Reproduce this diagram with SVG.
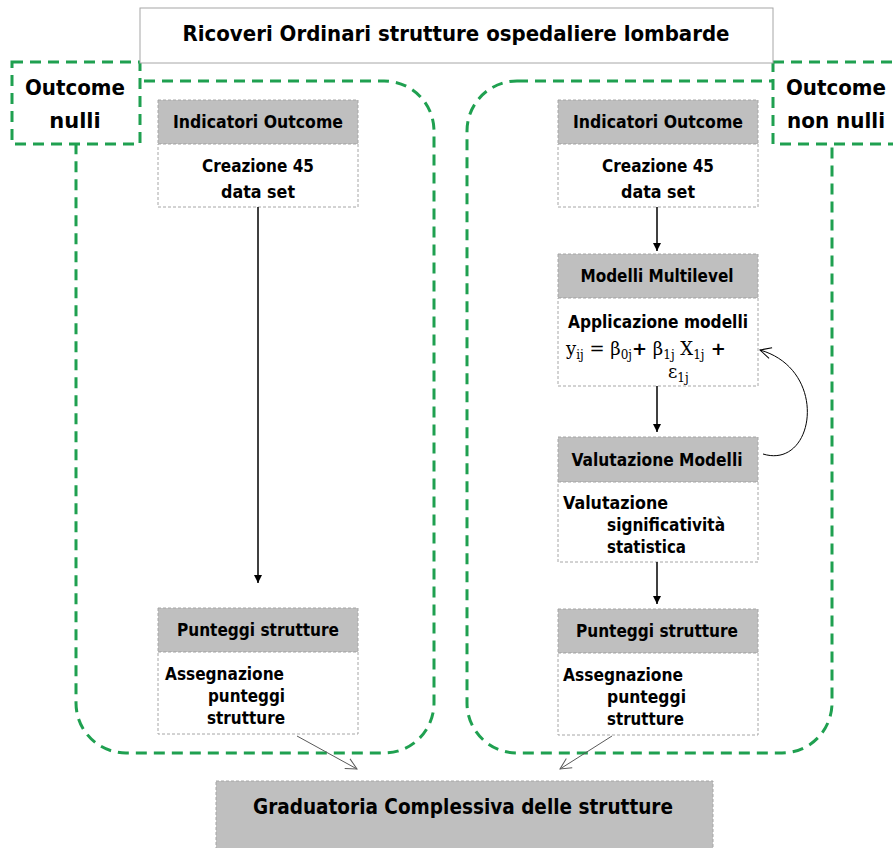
<svg xmlns="http://www.w3.org/2000/svg" width="893" height="848" viewBox="0 0 893 848">
<defs>
<style>
.t{font-family:"DejaVu Sans",Verdana,sans-serif;font-weight:bold;fill:#000;text-anchor:middle}
.tl{font-family:"DejaVu Sans",Verdana,sans-serif;font-weight:bold;fill:#000}
.hdr{fill:#bfbfbf;stroke:#a6a6a6;stroke-width:1;stroke-dasharray:3 2}
.body{fill:#fff;stroke:#a6a6a6;stroke-width:1;stroke-dasharray:3 2}
.grp{fill:none;stroke:#1fa050;stroke-width:3;stroke-dasharray:11 7}
.lbl{fill:#fff;stroke:#1fa050;stroke-width:3;stroke-dasharray:11 7}
.arr{stroke:#000;stroke-width:1.5;fill:none;marker-end:url(#ah)}
.thin{stroke:#595959;stroke-width:1;fill:none;marker-end:url(#oh)}
.m{font-family:"DejaVu Serif","Liberation Serif",serif;font-size:18px}
.s{font-size:12px}
</style>
<marker id="ah" markerWidth="10" markerHeight="10" refX="8" refY="5" orient="auto" markerUnits="userSpaceOnUse"><path d="M0,1 L8,5 L0,9 Z" fill="#000"/></marker>
<marker id="oh" markerWidth="14" markerHeight="14" refX="12" refY="7" orient="auto" markerUnits="userSpaceOnUse"><path d="M1,1.5 L12,7 L1,12.5" fill="none" stroke="#595959" stroke-width="1"/></marker>
<marker id="oh2" markerWidth="14" markerHeight="14" refX="12" refY="7" orient="auto" markerUnits="userSpaceOnUse"><path d="M1,1.5 L12,7 L1,12.5" fill="none" stroke="#000" stroke-width="1"/></marker>
</defs>

<g id="groups">
<rect class="grp" x="76" y="81" width="358" height="672" rx="50" ry="50"/>
<rect class="grp" x="467" y="81" width="365" height="672" rx="50" ry="50"/>
</g>

<g id="label-nulli">
<rect class="lbl" x="12" y="62" width="128" height="82"/>
<text class="t" x="75" y="95" font-size="21" textLength="100" lengthAdjust="spacingAndGlyphs">Outcome</text>
<text class="t" x="75" y="128" font-size="21">nulli</text>
</g>
<g id="label-non-nulli">
<rect class="lbl" x="773" y="62" width="130" height="82"/>
<text class="t" x="836" y="95" font-size="21" textLength="100" lengthAdjust="spacingAndGlyphs">Outcome</text>
<text class="t" x="836" y="128" font-size="21" textLength="98" lengthAdjust="spacingAndGlyphs">non nulli</text>
</g>

<g id="title">
<rect x="140" y="8" width="633" height="55" fill="#fff" stroke="#a6a6a6" stroke-width="1"/>
<text class="t" x="456" y="41" font-size="21" textLength="547" lengthAdjust="spacingAndGlyphs">Ricoveri Ordinari strutture ospedaliere lombarde</text>
</g>

<g id="left-indicatori">
<rect class="hdr" x="158" y="100" width="200" height="44"/>
<rect class="body" x="158" y="144" width="200" height="63"/>
<text class="t" x="258" y="128" font-size="17" textLength="170" lengthAdjust="spacingAndGlyphs">Indicatori Outcome</text>
<text class="t" x="258" y="172" font-size="17" textLength="112" lengthAdjust="spacingAndGlyphs">Creazione 45</text>
<text class="t" x="258" y="198" font-size="17" textLength="74" lengthAdjust="spacingAndGlyphs">data set</text>
</g>

<g id="left-punteggi">
<rect class="hdr" x="158" y="608" width="200" height="44"/>
<rect class="body" x="158" y="652" width="200" height="82"/>
<text class="t" x="258" y="636" font-size="17" textLength="162" lengthAdjust="spacingAndGlyphs">Punteggi strutture</text>
<text class="tl" x="165" y="680" font-size="17" textLength="119" lengthAdjust="spacingAndGlyphs">Assegnazione</text>
<text class="tl" x="208" y="702" font-size="17" textLength="77" lengthAdjust="spacingAndGlyphs">punteggi</text>
<text class="tl" x="207" y="724" font-size="17" textLength="78" lengthAdjust="spacingAndGlyphs">strutture</text>
</g>

<g id="right-indicatori">
<rect class="hdr" x="558" y="100" width="200" height="44"/>
<rect class="body" x="558" y="144" width="200" height="63"/>
<text class="t" x="658" y="128" font-size="17" textLength="170" lengthAdjust="spacingAndGlyphs">Indicatori Outcome</text>
<text class="t" x="658" y="172" font-size="17" textLength="112" lengthAdjust="spacingAndGlyphs">Creazione 45</text>
<text class="t" x="658" y="198" font-size="17" textLength="74" lengthAdjust="spacingAndGlyphs">data set</text>
</g>

<g id="right-modelli">
<rect class="hdr" x="558" y="254" width="200" height="44"/>
<rect class="body" x="558" y="298" width="200" height="88"/>
<text class="t" x="657" y="282" font-size="17" textLength="153" lengthAdjust="spacingAndGlyphs">Modelli Multilevel</text>
<text class="t" x="658" y="328" font-size="17" textLength="180" lengthAdjust="spacingAndGlyphs">Applicazione modelli</text>
<text class="m" x="566" y="355">y<tspan class="s" dy="4">ij</tspan><tspan dy="-4"> = β</tspan><tspan class="s" dy="4">0j</tspan><tspan dy="-4" font-family="DejaVu Sans,sans-serif" font-weight="bold">+</tspan> β<tspan class="s" dy="4">1j</tspan><tspan dy="-4"> X</tspan><tspan class="s" dy="4">1j</tspan><tspan dy="-4" font-family="DejaVu Sans,sans-serif" font-weight="bold"> +</tspan></text>
<text class="m" x="668" y="378">ε<tspan class="s" dy="4">1j</tspan></text>
</g>

<g id="right-valutazione">
<rect class="hdr" x="558" y="437" width="200" height="45"/>
<rect class="body" x="558" y="482" width="200" height="80"/>
<text class="t" x="657" y="466" font-size="17" textLength="171" lengthAdjust="spacingAndGlyphs">Valutazione Modelli</text>
<text class="tl" x="563" y="509" font-size="17" textLength="105" lengthAdjust="spacingAndGlyphs">Valutazione</text>
<text class="tl" x="607" y="531" font-size="17" textLength="118" lengthAdjust="spacingAndGlyphs">significatività</text>
<text class="tl" x="607" y="553" font-size="17" textLength="79" lengthAdjust="spacingAndGlyphs">statistica</text>
</g>

<g id="right-punteggi">
<rect class="hdr" x="558" y="609" width="200" height="44"/>
<rect class="body" x="558" y="653" width="200" height="82"/>
<text class="t" x="657" y="637" font-size="17" textLength="162" lengthAdjust="spacingAndGlyphs">Punteggi strutture</text>
<text class="tl" x="563" y="681" font-size="17" textLength="120" lengthAdjust="spacingAndGlyphs">Assegnazione</text>
<text class="tl" x="607" y="703" font-size="17" textLength="79" lengthAdjust="spacingAndGlyphs">punteggi</text>
<text class="tl" x="607" y="725" font-size="17" textLength="77" lengthAdjust="spacingAndGlyphs">strutture</text>
</g>

<g id="graduatoria">
<rect class="hdr" x="216" y="781" width="497" height="70"/>
<text class="t" x="463" y="814" font-size="22" textLength="420" lengthAdjust="spacingAndGlyphs">Graduatoria Complessiva delle strutture</text>
</g>

<g id="connectors">
<path class="arr" d="M258,207 L258,583"/>
<path class="arr" d="M657,207 L657,251"/>
<path class="arr" d="M657,386 L657,432"/>
<path class="arr" d="M657,562 L657,604"/>
<path d="M763,454 C815,470 830,370 760,350" fill="none" stroke="#000" stroke-width="1" marker-end="url(#oh2)"/>
<path class="thin" d="M297,736 L357,769"/>
<path class="thin" d="M612,736 L560,769"/>
</g>
</svg>
